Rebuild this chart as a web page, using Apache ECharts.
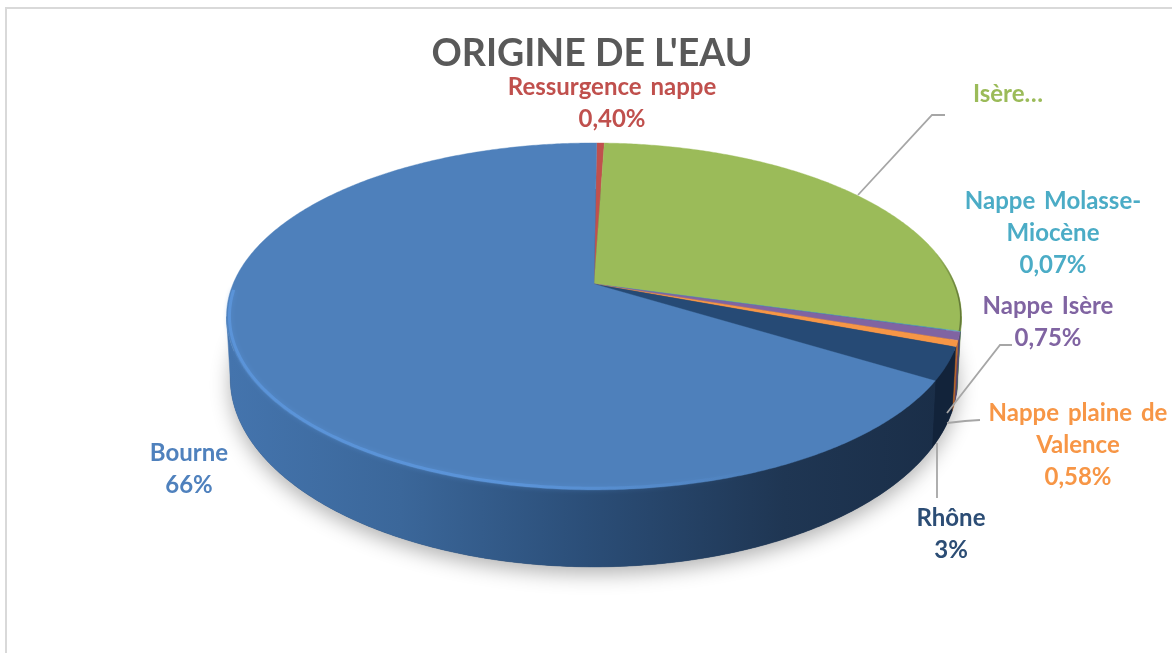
<!DOCTYPE html>
<html><head><meta charset="utf-8">
<style>html,body{margin:0;padding:0;background:#fff}#c{width:1172px;height:653px}</style>
<script src="https://cdn.jsdelivr.net/npm/echarts@6/dist/echarts.min.js"></script>
</head><body><div id="c"></div>
<script>
// ---- data (clockwise from the top of the pie)
const categories  = ['Ressurgence nappe', 'Isère…', 'Nappe Molasse-\nMiocène', 'Nappe Isère', 'Nappe plaine de\nValence', 'Rhône', 'Bourne'];
const seriesValues = [0.40, 28.6, 0.07, 0.75, 0.58, 3, 66];
const valueLabels = ['0,40%', '', '0,07%', '0,75%', '0,58%', '3%', '66%'];
const titleText = "ORIGINE DE L'EAU";

// ---- styles and layout
const topColors  = ['#c0504d', '#9bbb59', '#4bacc6', '#8064a2', '#f79646', '#264a75', '#4e80bb'];
const wallColors = ['#7d3230', '#66803a', '#2f7186', '#54406c', '#b5642a', '#12233a', null];
const labelColors = ['#c0504d', '#9bbb59', '#4bacc6', '#8064a2', '#f79646', '#2c4d75', '#4f81bd'];
const labelBoxes = [[612, 87], [1008, 94], [1053, 201], [1048, 306], [1078, 413], [951, 518], [189, 453]];
const LINE_H = 32;
const leaders = [
  [[858, 195], [932, 115], [945, 115]],
  [[947, 413], [1000, 345], [1012, 345]],
  [[947, 423], [965, 421], [980, 420]],
  [[937, 443], [937, 498]]
];
const CX = 594, CY = 284, A = 361, B = 167.4, K = 0.187, START = 0.5;
const RIM_CY = 316.5, RIM_RY = 173.5, BOT_CY = 378, BOT_RY = 189, BOT_SX = 0.99;
const VIS_FROM = 100.8, VIS_TO = 259.2;

const total = seriesValues.reduce((a, b) => a + b, 0);
function spanOf(i) {
  let s = 0;
  for (let j = 0; j < i; j++) s += seriesValues[j];
  return [START + s / total * 360, START + (s + seriesValues[i]) / total * 360];
}
function rim(deg, inset) {
  const t = deg * Math.PI / 180, u = Math.sin(t), v = -Math.cos(t), w = 1 - K * v;
  const f = inset || 1;
  return [CX + A * u / w * f, CY + B * v / w * f];
}
function bottom(deg) {
  const p = rim(deg);
  return [CX + (p[0] - CX) * BOT_SX, BOT_CY + (p[1] - RIM_CY) * BOT_RY / RIM_RY];
}
function arc(fn, from, to, extra) {
  const pts = [], n = Math.max(2, Math.ceil(Math.abs(to - from) * 2));
  for (let i = 0; i <= n; i++) pts.push(fn(from + (to - from) * i / n, extra));
  return pts;
}
const bourneWall = {type: 'linear', x: 230, y: 0, x2: 940, y2: 0, global: true, colorStops: [
  {offset: 0, color: '#4474ad'}, {offset: 0.24, color: '#3b679a'}, {offset: 0.5, color: '#2b4e78'},
  {offset: 0.78, color: '#1f3653'}, {offset: 1, color: '#1a2e48'}]};
const bevel = {type: 'linear', x: 226, y: 0, x2: 760, y2: 0, global: true, colorStops: [
  {offset: 0, color: 'rgba(92,150,220,0.85)'}, {offset: 0.55, color: 'rgba(92,150,220,0.85)'}, {offset: 1, color: 'rgba(92,150,220,0)'}]};
const greenEdge = {type: 'linear', x: 935, y: 0, x2: 962, y2: 0, global: true, colorStops: [
  {offset: 0, color: 'rgba(90,110,50,0)'}, {offset: 1, color: 'rgba(90,110,50,0.9)'}]};

const seqData = seriesValues.map((v, i) => [i, v]);
const option = {
  animation: false,
  backgroundColor: '#fff',
  title: {text: titleText, left: 587, top: 30, textAlign: 'center',
    textStyle: {fontFamily: 'Lato', fontWeight: 'bold', fontSize: 37.5, color: '#595959'}},
  graphic: [
    {type: 'polyline', silent: true, shape: {points: [[6, 653], [6, 8], [1172, 8]]},
     style: {stroke: '#d9d9d9', lineWidth: 2, fill: null}}
  ],
  series: [
    { // shadow of the pie
      type: 'custom', coordinateSystem: 'none', z: 1, data: [[0]], silent: true,
      renderItem() {
        return {type: 'polygon', shape: {points: arc(bottom, 0, 360)},
          style: {fill: '#2a3f5c', shadowColor: 'rgba(0,0,0,0.3)', shadowBlur: 20, shadowOffsetY: 7}};
      }
    },
    { // side walls
      type: 'custom', coordinateSystem: 'none', z: 2, data: seqData, silent: true,
      renderItem(p) {
        const i = p.dataIndex, s = spanOf(i);
        const from = Math.max(s[0], VIS_FROM), to = Math.min(s[1], VIS_TO);
        if (to <= from) return null;
        return {type: 'polygon',
          shape: {points: arc(rim, from, to).concat(arc(bottom, to, from))},
          style: {fill: wallColors[i] || bourneWall, stroke: wallColors[i] || bourneWall, lineWidth: 0.5}};
      }
    },
    { // top surface
      type: 'custom', coordinateSystem: 'none', z: 3, data: seqData, silent: true,
      renderItem(p) {
        const i = p.dataIndex, s = spanOf(i);
        return {type: 'polygon', shape: {points: [[CX, CY]].concat(arc(rim, s[0], s[1]))},
          style: {fill: topColors[i], stroke: topColors[i], lineWidth: 0.4}};
      }
    },
    { // rim lighting
      type: 'custom', coordinateSystem: 'none', z: 4, data: [[0], [1]], silent: true,
      renderItem(p) {
        if (p.dataIndex === 0) {
          return {type: 'polyline', shape: {points: arc(rim, 150, 268, 0.992)},
            style: {stroke: bevel, lineWidth: 3, fill: null, shadowColor: 'rgba(92,150,220,0.6)', shadowBlur: 5}};
        }
        return {type: 'polyline', shape: {points: arc(rim, 70, spanOf(1)[1], 0.998)},
          style: {stroke: greenEdge, lineWidth: 1.6, fill: null}};
      }
    },
    { // leader lines
      type: 'custom', coordinateSystem: 'none', z: 5, data: leaders.map((l, i) => [i]), silent: true,
      renderItem(p) {
        return {type: 'polyline', shape: {points: leaders[p.dataIndex]},
          style: {stroke: '#a6a6a6', lineWidth: 1.8, fill: null}};
      }
    },
    { // labels
      type: 'custom', coordinateSystem: 'none', z: 6, data: seqData, silent: true,
      renderItem(p) {
        const i = p.dataIndex;
        const lines = categories[i].split('\n').concat(valueLabels[i] ? [valueLabels[i]] : []);
        return {type: 'group', children: lines.map((t, k) => ({
          type: 'text',
          style: {text: t.replace(/ /g, ' \u2009'), x: labelBoxes[i][0], y: labelBoxes[i][1] + k * LINE_H,
            fill: labelColors[i], font: 'bold 24px Lato', align: 'center', verticalAlign: 'middle'}
        }))};
      }
    }
  ]
};
echarts.init(document.getElementById('c'), null, {renderer: 'canvas'}).setOption(option);
</script></body></html>
